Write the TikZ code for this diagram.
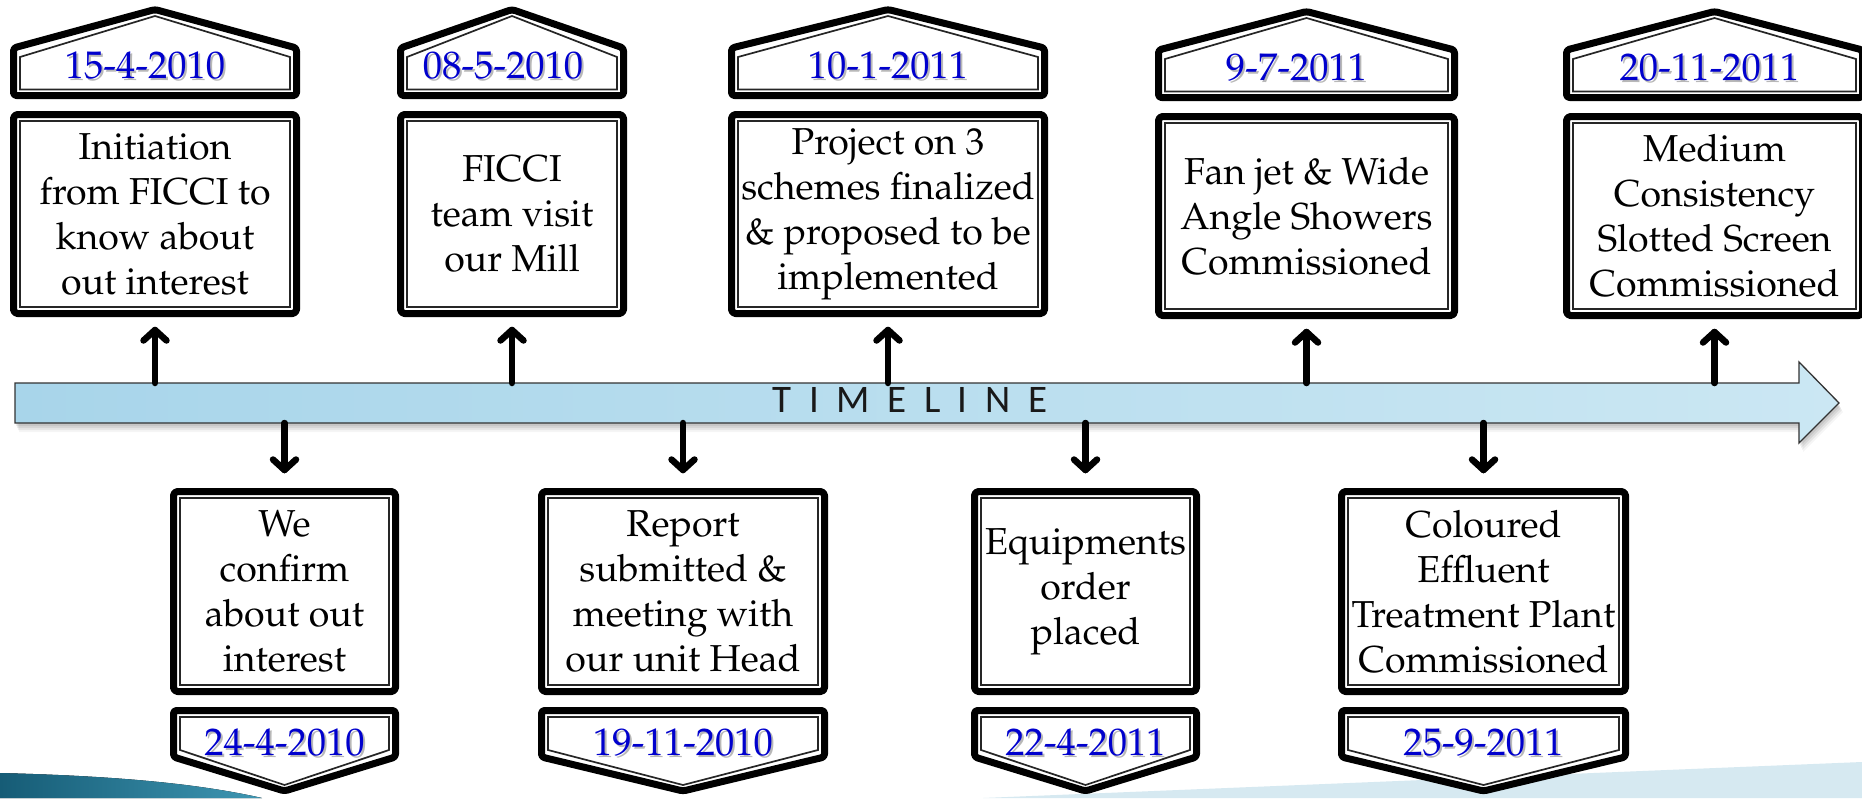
\documentclass[tikz,border=0pt]{standalone}
\usepackage[T1]{fontenc}
\usepackage{fontspec}
\newfontfamily\tlfont{Carlito}
\newcommand\palfont{\fontencoding{T1}\fontfamily{ppl}\selectfont}
\newcommand\bodyfont{\palfont\fontsize{37.5}{45}\selectfont}
\newcommand\datefont{\palfont\fontsize{38.5}{40}\selectfont}
\definecolor{datecol}{RGB}{0,0,205}
\definecolor{barleft}{RGB}{168,213,234}
\definecolor{barright}{RGB}{203,231,243}
\definecolor{tealdark}{RGB}{22,92,118}
\definecolor{teallight}{RGB}{62,150,178}
\definecolor{paleblue}{RGB}{214,233,241}

% upper event: date plaque with a roof, description box, arrow up from the bar
% #1 name, #2 left, #3 right, #4 vertical offset, #5 date, #6 description,
% #7 horizontal offset of the date
\newcommand\TopEvent[7]{%
  \pgfmathsetmacro\cx{(#2+#3)/2}%
  \pgfmathsetmacro\bw{#3-#2-7}%
  \draw[frame, rounded corners=3pt]
    ({#2+3.5},{95.5+#4}) -- ({#2+3.5},{48+#4}) -- (\cx,{9.5+#4})
    -- ({#3-3.5},{48+#4}) -- ({#3-3.5},{95.5+#4}) -- cycle;
  \draw[rim] ({#2+10},{89.5+#4}) -- ({#2+10},{57+#4}) -- (\cx,{16+#4})
    -- ({#3-10},{57+#4}) -- ({#3-10},{89.5+#4}) -- cycle;
  \node[dateshade, anchor=base] (#1s) at ({\cx+#7+2},{80+#4}) {#5};
  \node[datetxt, anchor=base] (#1d) at ({\cx+#7},{78+#4}) {#5};
  \node[evbox, minimum width=\bw pt, minimum height=199pt] (#1) at (\cx,{214+#4}) {#6};
  \draw[rim] ([shift={(6.5,6.5)}]#1.north west) rectangle ([shift={(-6.5,-6.5)}]#1.south east);
  \coordinate (#1tip) at ([yshift=-16.5pt]#1.south);
  \draw[link] (#1.south |- tltop) -- (#1tip);
  \draw[link] ([xshift=-11.5pt,yshift=-10.5pt]#1tip) -- (#1tip) -- ([xshift=11.5pt,yshift=-10.5pt]#1tip);
}

% lower event: description box, date plaque with a point, arrow down from the bar
\newcommand\BottomEvent[5]{%
  \pgfmathsetmacro\cx{(#2+#3)/2}%
  \pgfmathsetmacro\bw{#3-#2-7}%
  \node[evbox, minimum width=\bw pt, minimum height=200pt] (#1) at (\cx,591.5) {#5};
  \draw[rim] ([shift={(6.5,6.5)}]#1.north west) rectangle ([shift={(-6.5,-6.5)}]#1.south east);
  \draw[frame, rounded corners=3pt]
    ({#2+3.5},710.5) -- ({#3-3.5},710.5) -- ({#3-3.5},757)
    -- (\cx,791) -- ({#2+3.5},757) -- cycle;
  \draw[rim] ({#2+10},717) -- ({#3-10},717) -- ({#3-10},750)
    -- (\cx,785) -- ({#2+10},750) -- cycle;
  \node[dateshade, anchor=base] (#1s) at ({\cx+2},757) {#4};
  \node[datetxt, anchor=base] (#1d) at (\cx,755) {#4};
  \coordinate (#1tip) at ([yshift=21.5pt]#1.north);
  \draw[link] (#1.north |- tlbot) -- (#1tip);
  \draw[link] ([xshift=-11.5pt,yshift=10.5pt]#1tip) -- (#1tip) -- ([xshift=11.5pt,yshift=10.5pt]#1tip);
}

\begin{document}
\begin{tikzpicture}[x=1pt,y=-1pt,
  frame/.style={draw=black, line width=7pt, line join=round, fill=white},
  rim/.style={draw=black!85, line width=1.7pt},
  evbox/.style={frame, rectangle, rounded corners=4pt, inner sep=0pt,
    outer sep=0pt, align=center, font=\bodyfont},
  datetxt/.style={text=datecol, font=\datefont, inner sep=0pt},
  dateshade/.style={text=black!28, font=\datefont, inner sep=0pt},
  link/.style={line width=6.5pt, line cap=round, line join=round},
  bar/.style={draw=black!80, line width=1.3pt, left color=barleft, right color=barright},
]
\useasboundingbox (0,0) rectangle (1862,798);
\clip (0,0) rectangle (1862,798);
\fill[white] (0,0) rectangle (1862,798);

% corner bands along the bottom edge
\fill[left color=tealdark, right color=teallight]
  (0,773) .. controls (120,776) and (200,784) .. (262,798) -- (0,798) -- cycle;
\fill[paleblue] (983,798) -- (1862,762) -- (1862,798) -- cycle;

% soft shadow under the bar
\foreach \dx/\dy/\op in {1/3/0.07, 2/5/0.07, 3/7/0.06, 4/9/0.04} {
  \fill[black, opacity=\op, shift={(\dx,\dy)}]
    (15,383) -- (1799,383) -- (1799,362) -- (1839,403) -- (1799,443)
    -- (1799,423) -- (15,423) -- cycle;
}
% the timeline bar
\draw[bar] (15,383) -- (1799,383) -- (1799,362) -- (1839,403) -- (1799,443)
  -- (1799,423) -- (15,423) -- cycle;
\coordinate (tltop) at (0,383);
\coordinate (tlbot) at (0,423);
\node[anchor=base, inner sep=0pt, text=black!90,
  font={\tlfont\fontsize{39}{40}\selectfont\spaceskip=17.5pt\relax}]
  (tl) at (910,412) {T I M E L I N E};

\TopEvent{a1}{10}{300}{0}{15-4-2010}{Initiation\\from FICCI to\\know about\\out interest}{-10}
\TopEvent{a2}{397}{627}{0}{08-5-2010}{FICCI\\team visit\\our Mill}{-9}
\TopEvent{a3}{728}{1048}{0}{10-1-2011}{Project on 3\\schemes finalized\\\& proposed to be\\implemented}{0}
\TopEvent{a4}{1155}{1458}{2}{9-7-2011}{Fan jet \& Wide\\Angle Showers\\Commissioned}{-10}
\TopEvent{a5}{1563}{1866}{2}{20-11-2011}{Medium\\Consistency\\Slotted Screen\\Commissioned}{-5}

\BottomEvent{b1}{170}{399}{24-4-2010}{We\\confirm\\about out\\interest}
\BottomEvent{b2}{538}{828}{19-11-2010}{Report\\submitted \&\\meeting with\\our unit Head}
\BottomEvent{b3}{971}{1200}{22-4-2011}{Equipments\\order\\placed}
\BottomEvent{b4}{1338}{1629}{25-9-2011}{Coloured\\Effluent\\Treatment Plant\\Commissioned}
\end{tikzpicture}
\end{document}
